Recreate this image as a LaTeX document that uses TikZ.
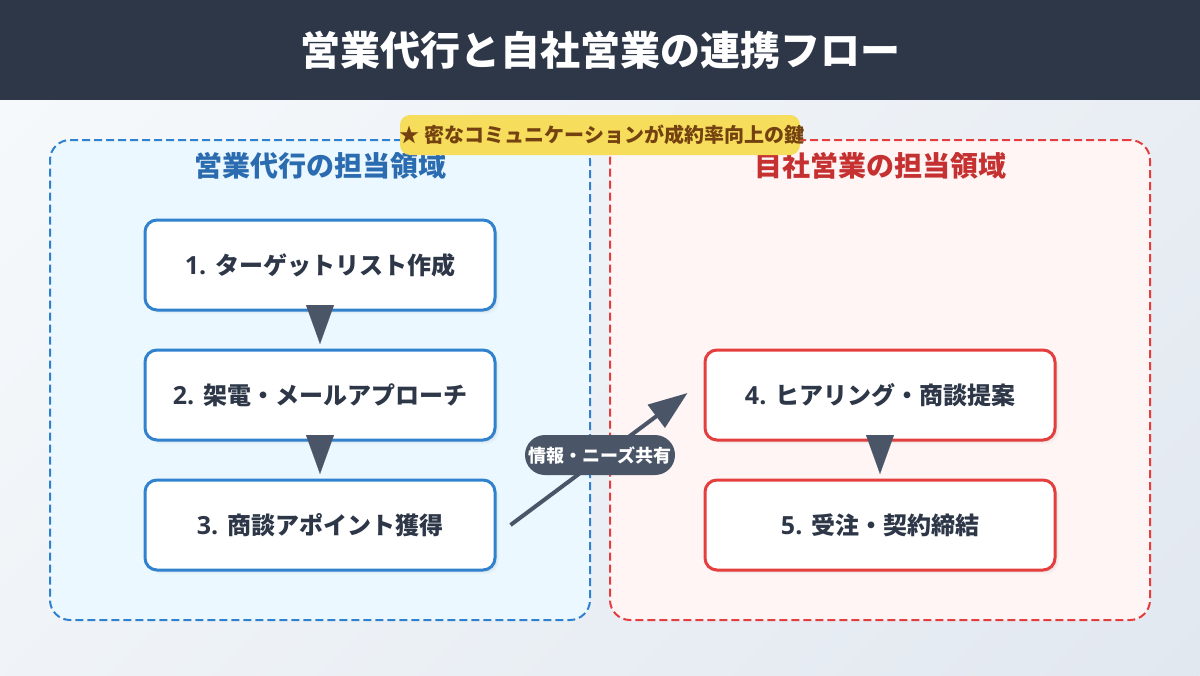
\documentclass[tikz,border=0pt]{standalone}
\usepackage{fontspec}
\usetikzlibrary{arrows.meta,shadows,calc}
\setmainfont{Open Sans}
\newfontfamily\jpf{Noto Sans CJK JP}
\newfontfamily\latf{Open Sans}
\newcommand{\jpb}{\jpf\bfseries}
\newcommand{\fsz}[1]{\fontsize{\dimexpr#1pt*3/4\relax}{\dimexpr#1pt*3/4\relax}\selectfont}
\newcommand{\lat}{\latf\bfseries\fsz{25}}
\definecolor{hdr}{HTML}{2D3748}
\definecolor{bgA}{HTML}{F7FAFC}
\definecolor{bgB}{HTML}{E2E8F0}
\definecolor{blueS}{HTML}{3182CE}
\definecolor{blueF}{HTML}{EBF8FF}
\definecolor{blueT}{HTML}{2B6CB0}
\definecolor{redS}{HTML}{E53E3E}
\definecolor{redF}{HTML}{FFF5F5}
\definecolor{redT}{HTML}{C53030}
\definecolor{badgeF}{HTML}{F6DD5C}
\definecolor{badgeT}{HTML}{744210}
\definecolor{arrowC}{HTML}{4A5568}
\tikzset{
  x=0.75pt,y=-0.75pt,
  panel/.style={rectangle,rounded corners=15pt,line width=1.5pt,dash pattern=on 6pt off 3pt,inner sep=0pt,minimum width=405pt,minimum height=360pt},
  bluepanel/.style={panel,draw=blueS,fill=blueF},
  redpanel/.style={panel,draw=redS,fill=redF},
  paneltitle/.style={inner sep=0pt,font=\jpb\fsz{28}},
  stepbox/.style={rectangle,rounded corners=9pt,line width=2.25pt,fill=white,inner sep=0pt,minimum width=262.5pt,minimum height=67.5pt,text=hdr,font=\jpb\fsz{24},
    general shadow={shadow xshift=1.5pt,shadow yshift=-1.5pt,fill=black,opacity=0.03},
    general shadow={shadow xshift=2.2pt,shadow yshift=-2.2pt,fill=black,opacity=0.02},
    general shadow={shadow xshift=3pt,shadow yshift=-3pt,fill=black,opacity=0.02}},
  bluebox/.style={stepbox,draw=blueS},
  redbox/.style={stepbox,draw=redS},
  flowarrow/.style={draw=arrowC,line width=0.1pt,-{Triangle[length=29.25pt,width=21pt,fill=arrowC]}},
  linkarrow/.style={draw=arrowC,line width=3pt,-{Triangle[length=29.25pt,width=21pt,fill=arrowC]}},
  badge/.style={rectangle,rounded corners=7.5pt,fill=badgeF,inner sep=0pt,minimum width=300pt,minimum height=30pt,text=badgeT,font=\jpb\fsz{20}},
  pill/.style={rectangle,rounded corners=15pt,fill=arrowC,inner sep=0pt,minimum width=112.5pt,minimum height=30pt,text=white,font=\jpb\fsz{18}},
  headbar/.style={rectangle,fill=hdr,inner sep=0pt,minimum width=900pt,minimum height=75pt,text=white,font=\jpb\fsz{40}}
}
\begin{document}
\begin{tikzpicture}
\useasboundingbox (0,0) rectangle (1200,675);
\begin{scope}
\clip (0,0) rectangle (1200,675);
\begin{scope}[transform canvas={rotate around={-45:(600,337.5)}}]
\shade[left color=bgA,right color=bgB] (600-663,337.5-1000) rectangle (600+663,337.5+1000);
\end{scope}
\end{scope}
\node[headbar] (head) at (600,50) {営業代行と自社営業の連携フロー};
\node[bluepanel] (pa) at (320,380) {};
\node[redpanel] (pb) at (880,380) {};
\node[paneltitle,text=blueT] (ta) at (320,165.5) {営業代行の担当領域};
\node[paneltitle,text=redT] (tb) at (880,165.5) {目社営業の担当領域};
\node[bluebox] (n1) at (320,265) {{\lat 1. }ターゲットリスト作成};
\node[bluebox] (n2) at (320,395) {{\lat 2. }架電・メールアプローチ};
\node[bluebox] (n3) at (320,525) {{\lat 3. }商談アポイント獲得};
\node[redbox] (n4) at (880,395) {{\lat 4. }ヒアリング・商談提案};
\node[redbox] (n5) at (880,525) {{\lat 5. }受注・契約締結};
\draw[flowarrow] ($(n1.south)+(0,-3.5)$) -- ($(n2.north)+(0,-4.5)$);
\draw[flowarrow] ($(n2.south)+(0,-3.5)$) -- ($(n3.north)+(0,-4.5)$);
\draw[flowarrow] ($(n4.south)+(0,-3.5)$) -- ($(n5.north)+(0,-4.5)$);
\draw[linkarrow] ($(n3.east)+(14,0)$) -- ($(n4.west)+(-16,-2)$);
\node[pill] (lbl) at (600,455) {情報・ニーズ共有};
\node[badge] (key) at (600,135) {\makebox[0pt]{\hspace{3pt}★ 密なコミュニケーションが成約率向上の鍵}};
\end{tikzpicture}
\end{document}
